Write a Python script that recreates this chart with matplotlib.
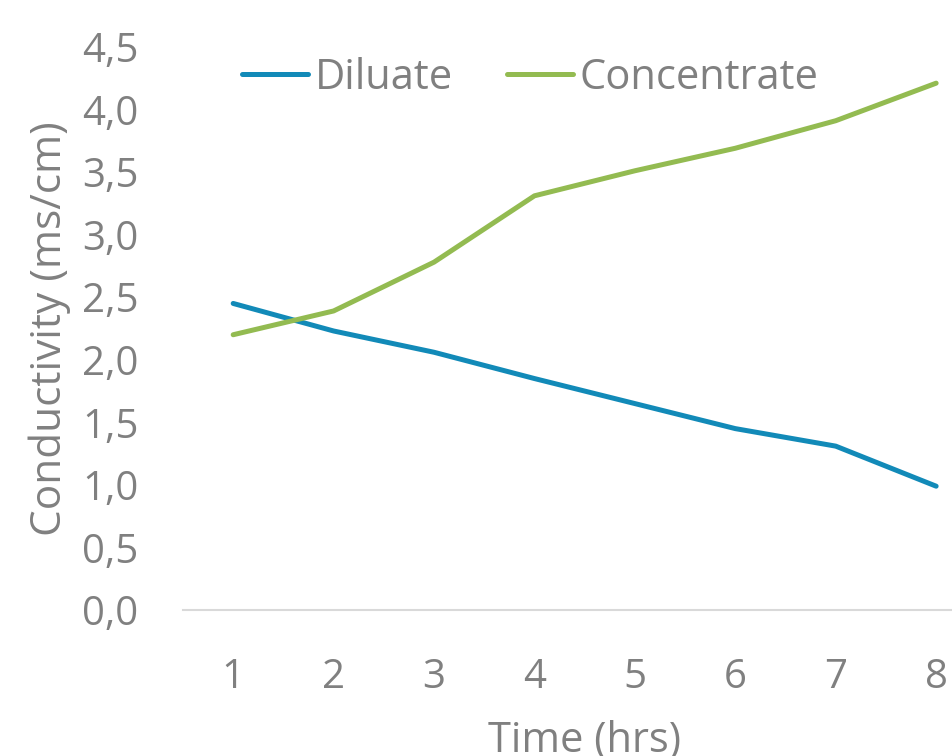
import matplotlib.pyplot as plt
from matplotlib.ticker import FuncFormatter

# Conductivity readings per hour
hours = [1, 2, 3, 4, 5, 6, 7, 8]
diluate = [2.45, 2.23, 2.06, 1.85, 1.65, 1.45, 1.31, 0.99]
concentrate = [2.20, 2.39, 2.78, 3.31, 3.51, 3.69, 3.91, 4.21]
y_ticks = [0.0, 0.5, 1.0, 1.5, 2.0, 2.5, 3.0, 3.5, 4.0, 4.5]

grey = '#808080'
plt.rcParams['font.family'] = ['Open Sans', 'DejaVu Sans']

fig = plt.figure(figsize=(9.53, 7.56), dpi=100)
ax = fig.add_axes([0.192, 0.193, 0.843, 0.745])

ax.plot(hours, diluate, color='#128ab8', lw=3.6, label='Diluate', solid_capstyle='round')
ax.plot(hours, concentrate, color='#93bb51', lw=3.6, label='Concentrate', solid_capstyle='round')

ax.set_xlim(0.5, 8.5)
ax.set_ylim(0, 4.5)
ax.set_xticks(hours)
ax.set_yticks(y_ticks)
ax.yaxis.set_major_formatter(FuncFormatter(lambda v, p: f'{v:.1f}'.replace('.', ',')))

for side in ['top', 'right', 'left']:
    ax.spines[side].set_visible(False)
ax.spines['bottom'].set_color('#d9d9d9')
ax.spines['bottom'].set_linewidth(1.5)
ax.tick_params(axis='both', length=0, labelsize=29, colors=grey)
ax.tick_params(axis='y', pad=32)
ax.tick_params(axis='x', pad=34)

ax.set_xlabel('Time (hrs)', fontsize=30, color=grey, labelpad=16)
ax.set_ylabel('Conductivity (ms/cm)', fontsize=30.5, color=grey, labelpad=8)

leg = ax.legend(loc='upper center', bbox_to_anchor=(0.432, 1.012), ncol=2,
                frameon=False, fontsize=30, handlelength=1.6, handletextpad=0.15,
                columnspacing=1.3, labelcolor=grey, borderaxespad=0)

fig.savefig('out.png', dpi=100)
